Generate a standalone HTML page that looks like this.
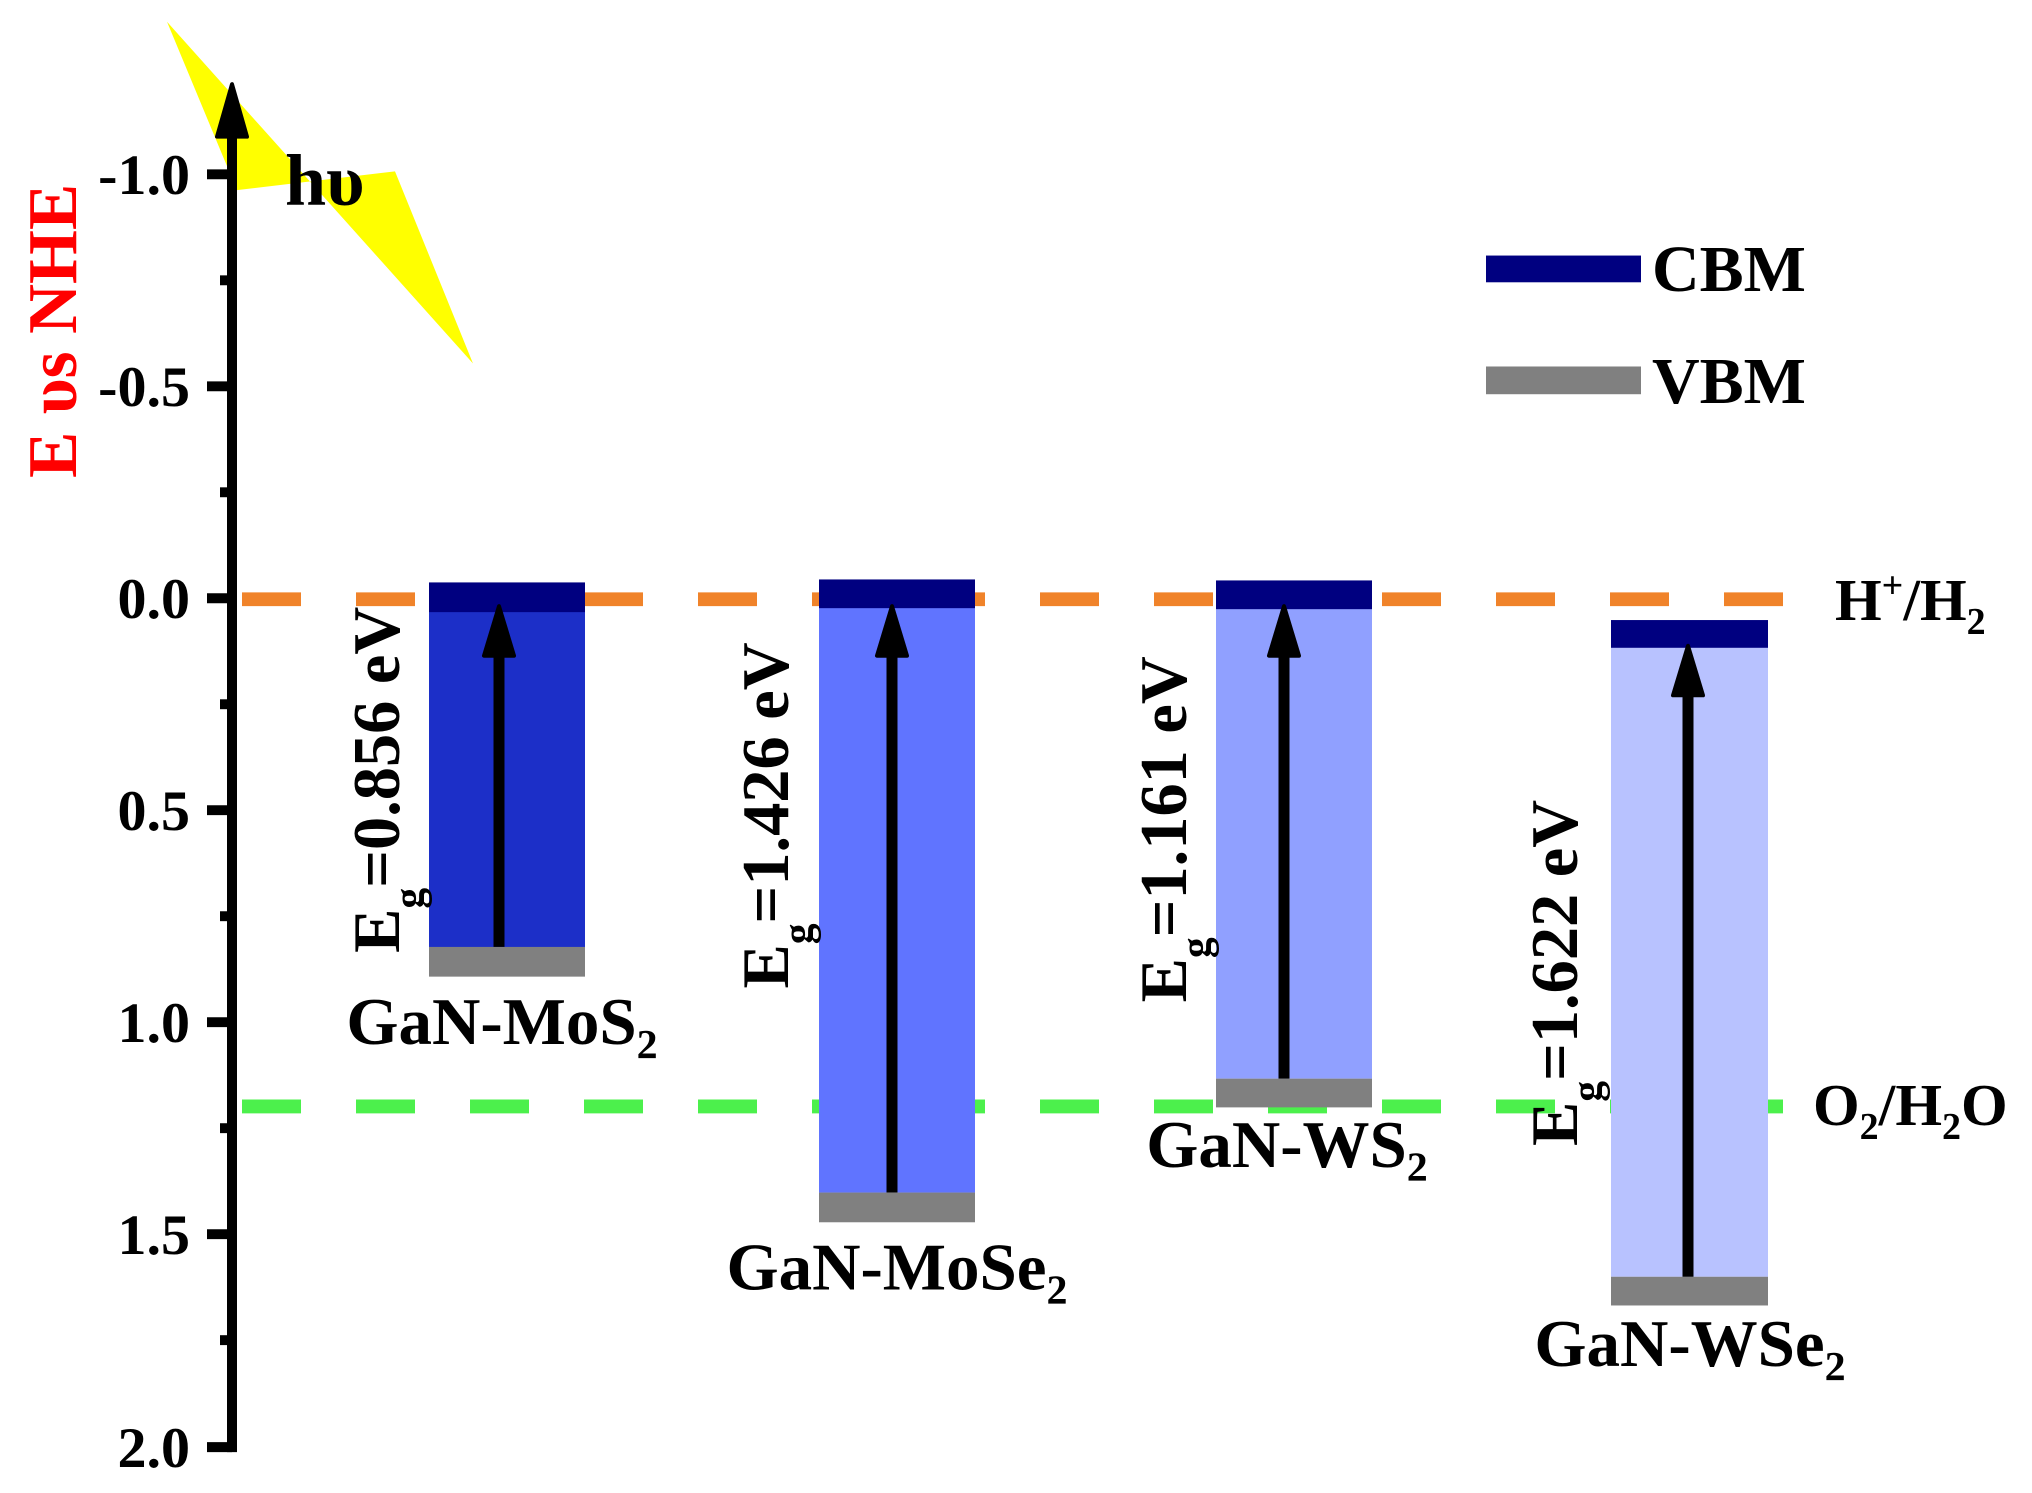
<!DOCTYPE html>
<html><head><meta charset="utf-8"><style>html,body{margin:0;padding:0;background:#fff}svg{display:block}</style></head>
<body>
<svg width="2032" height="1493" viewBox="0 0 2032 1493" xmlns="http://www.w3.org/2000/svg" font-family="'Liberation Serif', serif" font-weight="bold">
<rect width="2032" height="1493" fill="#fff"/>
<g transform="scale(1,0.9905)">
<polygon points="167,22 237,192 395,173 473,367" fill="#ffff00"/>
<!-- dashed lines -->
<line x1="242" y1="605" x2="1825" y2="605" stroke="#f0832a" stroke-width="14" stroke-dasharray="59,55"/>
<line x1="242" y1="1117" x2="1825" y2="1117" stroke="#4cf04c" stroke-width="14" stroke-dasharray="59,55"/>
<!-- bars -->
<rect x="429" y="600" width="156" height="358" fill="#1c2fc8"/>
<rect x="429" y="588" width="156" height="30" fill="#000080"/>
<rect x="429" y="956" width="156" height="30" fill="#808080"/>
<rect x="819" y="600" width="156" height="604" fill="#6074ff"/>
<rect x="819" y="585" width="156" height="29" fill="#000080"/>
<rect x="819" y="1204" width="156" height="30" fill="#808080"/>
<rect x="1216" y="600" width="156" height="489" fill="#90a0ff"/>
<rect x="1216" y="586" width="156" height="29" fill="#000080"/>
<rect x="1216" y="1089" width="156" height="29" fill="#808080"/>
<rect x="1611" y="640" width="157" height="649" fill="#b8c2ff"/>
<rect x="1611" y="626" width="157" height="28" fill="#000080"/>
<rect x="1611" y="1289" width="157" height="29" fill="#808080"/>
<!-- arrows -->
<g fill="#000" stroke="#000" stroke-linejoin="round" stroke-width="4">
<line x1="499" y1="956" x2="499" y2="640" stroke-width="11"/>
<polygon points="499,612 484,662 514,662"/>
<line x1="892" y1="1204" x2="892" y2="640" stroke-width="11"/>
<polygon points="892,612 877,662 907,662"/>
<line x1="1284" y1="1089" x2="1284" y2="640" stroke-width="11"/>
<polygon points="1284,612 1269,662 1299,662"/>
<line x1="1688" y1="1289" x2="1688" y2="680" stroke-width="11"/>
<polygon points="1688,652 1673,702 1703,702"/>
</g>
<!-- axis -->
<line x1="232" y1="120" x2="232" y2="1466" stroke="#000" stroke-width="10"/>
<polygon points="232,85 217,138 247,138" fill="#000" stroke="#000" stroke-width="4" stroke-linejoin="round"/>
<g stroke="#000" stroke-width="10">
<line x1="207" y1="176" x2="232" y2="176"/><line x1="220" y1="283" x2="232" y2="283"/>
<line x1="207" y1="390" x2="232" y2="390"/><line x1="220" y1="497" x2="232" y2="497"/>
<line x1="207" y1="604" x2="232" y2="604"/><line x1="220" y1="711" x2="232" y2="711"/>
<line x1="207" y1="818" x2="232" y2="818"/><line x1="220" y1="925" x2="232" y2="925"/>
<line x1="207" y1="1032" x2="232" y2="1032"/><line x1="220" y1="1139" x2="232" y2="1139"/>
<line x1="207" y1="1246" x2="232" y2="1246"/><line x1="220" y1="1353" x2="232" y2="1353"/>
<line x1="207" y1="1461" x2="232" y2="1461"/>
</g>
<g font-size="58" text-anchor="end">
<text x="190" y="196">-1.0</text><text x="190" y="410">-0.5</text><text x="190" y="624">0.0</text>
<text x="190" y="838">0.5</text><text x="190" y="1052">1.0</text><text x="190" y="1266">1.5</text><text x="190" y="1481">2.0</text>
</g>
<text transform="translate(76,334) rotate(-90)" text-anchor="middle" font-size="70" fill="#ff0000">E υs NHE</text>
<text x="285" y="207" font-size="74">hυ</text>
<!-- legend -->
<rect x="1486" y="258" width="155" height="27" fill="#000080"/>
<rect x="1486" y="370" width="155" height="28" fill="#808080"/>
<text x="1652" y="294" font-size="66">CBM</text>
<text x="1652" y="407" font-size="66">VBM</text>
<!-- ref labels -->
<text x="1835" y="626" font-size="60">H<tspan font-size="38" dy="-22">+</tspan><tspan dy="22">/H</tspan><tspan font-size="38" dy="14">2</tspan></text>
<text x="1813" y="1136" font-size="60">O<tspan font-size="38" dy="14">2</tspan><tspan dy="-14">/H</tspan><tspan font-size="38" dy="14">2</tspan><tspan dy="-14">O</tspan></text>
<!-- material labels -->
<g font-size="67" text-anchor="middle">
<text x="502" y="1054">GaN-MoS<tspan font-size="42" dy="14">2</tspan></text>
<text x="897" y="1302">GaN-MoSe<tspan font-size="42" dy="14">2</tspan></text>
<text x="1287" y="1178">GaN-WS<tspan font-size="42" dy="14">2</tspan></text>
<text x="1690" y="1379">GaN-WSe<tspan font-size="42" dy="14">2</tspan></text>
</g>
<!-- Eg labels -->
<g font-size="67">
<text transform="translate(399,962) rotate(-90)">E<tspan font-size="42" dy="24">g</tspan><tspan dy="-24">=0.856 eV</tspan></text>
<text transform="translate(788,998) rotate(-90)">E<tspan font-size="42" dy="24">g</tspan><tspan dy="-24">=1.426 eV</tspan></text>
<text transform="translate(1186,1012) rotate(-90)">E<tspan font-size="42" dy="24">g</tspan><tspan dy="-24">=1.161 eV</tspan></text>
<text transform="translate(1577,1157) rotate(-90)">E<tspan font-size="42" dy="24">g</tspan><tspan dy="-24">=1.622 eV</tspan></text>
</g>
</g>
</svg>
</body></html>
